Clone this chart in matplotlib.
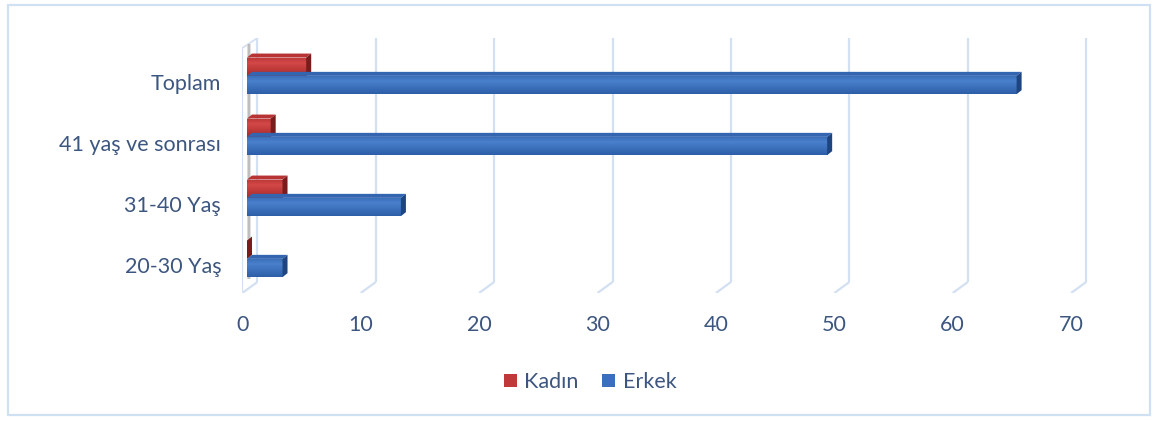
import matplotlib
matplotlib.use("Agg")
import matplotlib.pyplot as plt
from matplotlib.patches import Polygon, Rectangle, Patch
from matplotlib.colors import LinearSegmentedColormap
import numpy as np

categories = ["20-30 Yaş", "31-40 Yaş", "41 yaş ve sonrası", "Toplam"]
kadin = [0, 3, 2, 5]
erkek = [3, 13, 49, 65]
xticks = [0, 10, 20, 30, 40, 50, 60, 70]
series_names = ["Kadın", "Erkek"]

W, H = 1161, 422
fig = plt.figure(figsize=(W / 100, H / 100), dpi=100)
plt.rcParams['font.family'] = ['Lato', 'DejaVu Sans']
text_color = '#3d5680'
grid_color = '#d3e0f2'
fs = 15.5

ax_l, ax_r, ax_t, ax_b = 242, 1090, 38, 293
ax = fig.add_axes([ax_l / W, 1 - ax_b / H, (ax_r - ax_l) / W, (ax_b - ax_t) / H])
pxx = 11.84
pxy = 61.0
x0 = (ax_l - 247) / pxx
x1 = (ax_r - 247) / pxx
y0 = -(ax_b - 268) / pxy
y1 = (268 - ax_t) / pxy
ax.set_xlim(x0, x1)
ax.set_ylim(y0, y1)
ax.axis('off')

dx_back = 10.4 / pxx
dx_front = -4.7 / pxx
y_backfloor = -(282 - 268) / pxy
y_frontfloor = y0

for v in xticks:
    ax.plot([v + dx_back, v + dx_back], [y1, y_backfloor], color=grid_color, lw=1.6, zorder=1,
            solid_capstyle='butt')
    ax.plot([v + dx_back, v + dx_front], [y_backfloor, y_frontfloor], color=grid_color, lw=1.6,
            zorder=1, solid_capstyle='butt')

y_front_top = (268 - 48) / pxy
ax.plot([dx_front, dx_front], [y_front_top, y_frontfloor], color=grid_color, lw=1.6, zorder=1)
ax.plot([dx_front, dx_back], [y_front_top, y1], color=grid_color, lw=1.2, zorder=1)
for k, c in enumerate(['#d0d0d0', '#a8a8a8', '#dadada']):
    xs = 0.0 + k * 0.12
    ax.add_patch(Rectangle((xs, y_backfloor + 0.05), 0.12, (y1 - 0.1) - (y_backfloor + 0.05),
                           facecolor=c, edgecolor='none', alpha=0.75, zorder=1.5))

bh = 0.30
ddx = 5 / pxx
ddy = 4 / pxy

def bar3d(x, yc, c_top_grad, c_bot_grad, color_top, color_side):
    yb = yc - bh / 2
    yt = yc + bh / 2
    if x > 0:
        rect = Rectangle((0, yb), x, bh, facecolor='none', edgecolor='none', zorder=3)
        ax.add_patch(rect)
        cmap = LinearSegmentedColormap.from_list('g', [c_bot_grad, c_top_grad])
        grad = np.linspace(0, 1, 40).reshape(-1, 1)
        vals = np.interp(grad, [0, 0.7, 1.0], [0.0, 1.0, 0.4])
        im = ax.imshow(vals, extent=(0, x, yb, yt), origin='lower', aspect='auto', cmap=cmap,
                       vmin=0, vmax=1, zorder=3, interpolation='bilinear')
        im.set_clip_path(rect)
    ax.add_patch(Polygon([(0, yt), (x, yt), (x + ddx, yt + ddy), (ddx, yt + ddy)],
                         closed=True, facecolor=color_top, edgecolor='none', zorder=3.2))
    ax.add_patch(Polygon([(x, yb), (x, yt), (x + ddx, yt + ddy), (x + ddx, yb + ddy)],
                         closed=True, facecolor=color_side, edgecolor='none', zorder=3.2))

red = ('#d44848', '#a82a2a', '#b83434', '#7a1c1c')
blue = ('#4a80cc', '#2d5fa8', '#3465b0', '#1e4580')
for i in range(len(categories)):
    bar3d(kadin[i], i + bh, *red)
    bar3d(erkek[i], i, *blue)

ax.set_xlim(x0, x1)
ax.set_ylim(y0, y1)

for i, c in enumerate(categories):
    ax.annotate(c, xy=(0, i), xycoords=('axes fraction', 'data'), xytext=(-15, 1),
                textcoords='offset points', ha='right', va='center', fontsize=fs,
                color=text_color)

for v in xticks:
    ax.annotate(str(v), xy=(v + dx_front, y0), xycoords='data', xytext=(0, -23),
                textcoords='offset points', ha='center', va='center', fontsize=fs,
                color=text_color)

handles = [Patch(facecolor='#c0383a', edgecolor='none'), Patch(facecolor='#3a6fbf', edgecolor='none')]
fig.legend(handles, series_names, loc='center', bbox_to_anchor=(590 / W, 1 - 382 / H), ncol=2,
           frameon=False, fontsize=fs, handlelength=0.6, handleheight=0.6, handletextpad=0.35,
           columnspacing=1.1, labelcolor=text_color)

fig.add_artist(Rectangle((8 / W, 1 - 415 / H), (1150 - 8) / W, (415 - 5) / H,
                         transform=fig.transFigure, facecolor='none', edgecolor='#d0e0f3', lw=1.6))

fig.savefig('out.png', dpi=100)
